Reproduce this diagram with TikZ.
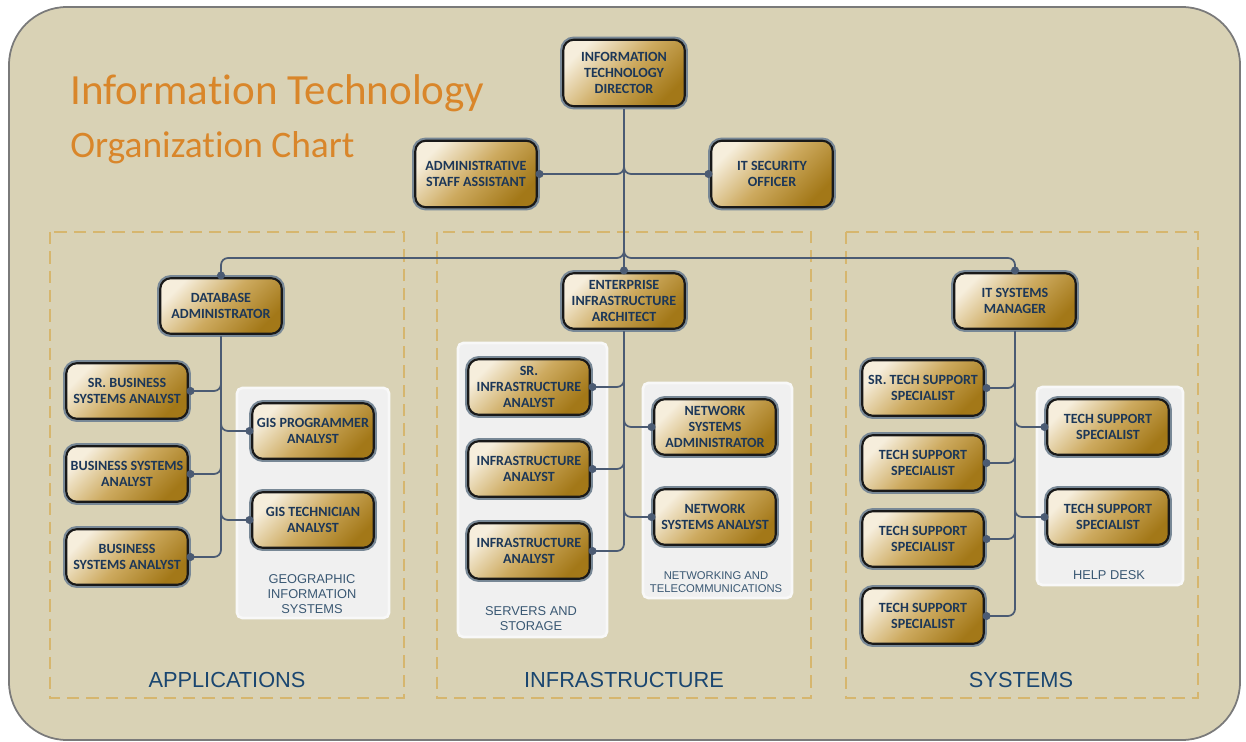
\documentclass[tikz,border=0pt]{standalone}
\usepackage{fontspec}
\setmainfont{Carlito}[Ligatures=NoCommon]
\newfontfamily\capfont{Liberation Sans}
\usepackage{xcolor}
\usepackage{tikz}
\usetikzlibrary{shapes,arrows,calc}
\definecolor{chartbg}{RGB}{217,210,181}
\definecolor{framegray}{RGB}{122,122,122}
\definecolor{dashgold}{RGB}{214,182,110}
\definecolor{linkcol}{RGB}{75,91,115}
\definecolor{boxtext}{RGB}{28,55,88}
\definecolor{boxlight}{RGB}{246,238,220}
\definecolor{boxmid}{RGB}{205,170,95}
\definecolor{boxdark}{RGB}{163,120,24}
\definecolor{ringgray}{RGB}{120,136,150}
\definecolor{titleorange}{RGB}{217,134,42}
\definecolor{sectblue}{RGB}{26,70,112}
\definecolor{capblue}{RGB}{58,88,115}
\definecolor{panelgray}{RGB}{240,240,240}
\tikzset{%
  post/.style     = {draw=black!90, line width=1.2pt, rounded corners=6pt,
    preaction={draw=ringgray, line width=3.6pt},
    top color=boxlight, bottom color=boxdark, middle color=boxmid,
    shading angle=45, minimum width=2.43cm, minimum height=1.11cm,
    align=center, text=boxtext, inner sep=1pt, outer sep=1.6pt,
    font=\bfseries\fontsize{8}{9}\selectfont}, % Position box
  toppost/.style  = {post, minimum height=1.33cm},
  link/.style     = {draw=linkcol, line width=1pt, rounded corners=4pt},
  group/.style    = {draw=dashgold, line width=0.9pt,
    dash pattern=on 7pt off 4pt},
  panel/.style    = {fill=panelgray, draw=white!50!panelgray,
    line width=1.5pt, rounded corners=3pt},
  section/.style  = {text=sectblue, font=\capfont\fontsize{12.4}{14}\selectfont},
  caption/.style  = {text=capblue, align=center,
    font=\capfont\fontsize{7.3}{8.6}\selectfont}
}
\def\jdot(#1){\fill[linkcol] (#1) circle (2.3pt);}

\begin{document}
\begin{tikzpicture}[x=0.02cm, y=-0.02cm]
  \useasboundingbox (0,0) rectangle (1246,742);
  % frame
  \draw[framegray, line width=1pt, fill=chartbg, rounded corners=33pt]
    (9,7) rectangle (1240,740);
  \node[anchor=base west, inner sep=0pt, text=titleorange,
    font=\fontsize{24.5}{28}\selectfont]
    (title1) at (70,105) {Information Technology};
  \node[anchor=base west, inner sep=0pt, text=titleorange,
    font=\fontsize{21.3}{25}\selectfont]
    (title2) at (70,158) {Organization Chart};

  % sections
  \draw[group] (50,232) rectangle (404,698);
  \draw[group] (437,232) rectangle (811,698);
  \draw[group] (846,232) rectangle (1198,698);
  \node[section, anchor=base] (apps) at (227,687) {APPLICATIONS};
  \node[section, anchor=base] (infra) at (624,687) {INFRASTRUCTURE};
  \node[section, anchor=base] (sys) at (1021,687) {SYSTEMS};

  \fill[panel] (237,388) rectangle (389,618);
  \fill[panel] (458,343) rectangle (607,637);
  \fill[panel] (643,383) rectangle (792,598);
  \fill[panel] (1037,387) rectangle (1183,585);
  \node[caption] (giscap) at (312,594) {GEOGRAPHIC\\INFORMATION\\SYSTEMS};
  \node[caption] (srvcap) at (531,619) {SERVERS AND\\STORAGE};
  \node[caption, font=\capfont\fontsize{6.4}{7.4}\selectfont]
    (netcap) at (716,582) {NETWORKING AND\\TELECOMMUNICATIONS};
  \node[caption] (helpcap) at (1109,575) {HELP DESK};

  % positions
  \node[toppost] (itd) at (624,73) {INFORMATION\\TECHNOLOGY\\DIRECTOR};
  \node[toppost] (admin) at (476,174) {ADMINISTRATIVE\\STAFF ASSISTANT};
  \node[toppost] (itsec) at (772,174) {IT SECURITY\\OFFICER};
  \node[post] (dba) at (221,306) {DATABASE\\ADMINISTRATOR};
  \node[post] (eia) at (624,301) {ENTERPRISE\\INFRASTRUCTURE\\ARCHITECT};
  \node[post] (itsm) at (1015,301) {IT SYSTEMS\\MANAGER};

  \node[post] (sbsa) at (127,391) {SR. BUSINESS\\SYSTEMS ANALYST};
  \node[post] (bsa) at (127,474) {BUSINESS SYSTEMS\\ANALYST};
  \node[post] (bsb) at (127,557) {BUSINESS\\SYSTEMS ANALYST};
  \node[post] (gisp) at (313,431) {GIS PROGRAMMER\\ANALYST};
  \node[post] (gist) at (313,520) {GIS TECHNICIAN\\ANALYST};

  \node[post] (sria) at (529,387) {SR.\\INFRASTRUCTURE\\ANALYST};
  \node[post] (ia) at (529,469) {INFRASTRUCTURE\\ANALYST};
  \node[post] (ib) at (529,551) {INFRASTRUCTURE\\ANALYST};
  \node[post] (nsa) at (715,427) {NETWORK\\SYSTEMS\\ADMINISTRATOR};
  \node[post] (nsb) at (715,517) {NETWORK\\SYSTEMS ANALYST};

  \node[post] (stss) at (923,388) {SR. TECH SUPPORT\\SPECIALIST};
  \node[post] (tsa) at (923,463) {TECH SUPPORT\\SPECIALIST};
  \node[post] (tsb) at (923,539) {TECH SUPPORT\\SPECIALIST};
  \node[post] (tsc) at (923,616) {TECH SUPPORT\\SPECIALIST};
  \node[post] (tsd) at (1108,427) {TECH SUPPORT\\SPECIALIST};
  \node[post] (tse) at (1108,517) {TECH SUPPORT\\SPECIALIST};

  % reporting lines
  \coordinate (bus) at (624,258);
  \draw[link] (itd.south) |- (admin.east);
  \draw[link] (itd.south) |- (itsec.west);
  \draw[link] (itd.south) -- (bus) -| (dba.north);
  \draw[link] (itd.south) -- (bus) -| (itsm.north);
  \draw[link] (itd.south) -- (eia.north);
  \jdot(admin.east) \jdot(itsec.west)
  \jdot(dba.north) \jdot(eia.north) \jdot(itsm.north)

  \draw[link] (dba.south) |- (sbsa.east);
  \draw[link] (dba.south) |- (bsa.east);
  \draw[link] (dba.south) |- (bsb.east);
  \draw[link] (dba.south) |- (gisp.west);
  \draw[link] (dba.south) |- (gist.west);
  \jdot(sbsa.east) \jdot(bsa.east) \jdot(bsb.east)
  \jdot(gisp.west) \jdot(gist.west)

  \draw[link] (eia.south) |- (sria.east);
  \draw[link] (eia.south) |- (ia.east);
  \draw[link] (eia.south) |- (ib.east);
  \draw[link] (eia.south) |- (nsa.west);
  \draw[link] (eia.south) |- (nsb.west);
  \jdot(sria.east) \jdot(ia.east) \jdot(ib.east)
  \jdot(nsa.west) \jdot(nsb.west)

  \draw[link] (itsm.south) |- (stss.east);
  \draw[link] (itsm.south) |- (tsa.east);
  \draw[link] (itsm.south) |- (tsb.east);
  \draw[link] (itsm.south) |- (tsc.east);
  \draw[link] (itsm.south) |- (tsd.west);
  \draw[link] (itsm.south) |- (tse.west);
  \jdot(stss.east) \jdot(tsa.east) \jdot(tsb.east) \jdot(tsc.east)
  \jdot(tsd.west) \jdot(tse.west)
\end{tikzpicture}
\end{document}
